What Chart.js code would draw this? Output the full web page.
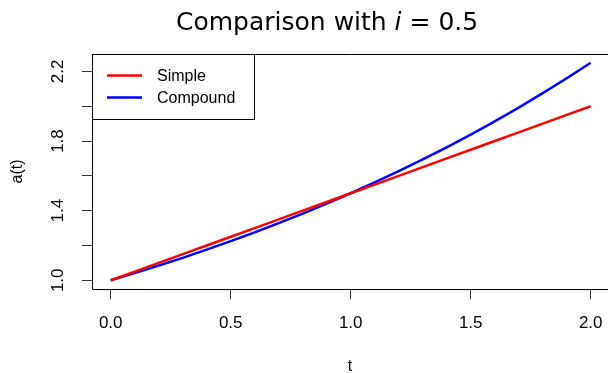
<!DOCTYPE html>
<html>
<head>
<meta charset="utf-8">
<script src="https://cdn.jsdelivr.net/npm/chart.js@4"></script>
<style>
  html, body { margin: 0; padding: 0; background: #fff; }
  #wrap { width: 608px; height: 373px; }
</style>
</head>
<body>
<div id="wrap"><canvas id="cmp"></canvas></div>
<script>
const tValues = [0, 0.1, 0.2, 0.3, 0.4, 0.5, 0.6, 0.7, 0.8, 0.9, 1.0, 1.1, 1.2, 1.3, 1.4, 1.5, 1.6, 1.7, 1.8, 1.9, 2.0];
const simpleValues = [1.00, 1.05, 1.10, 1.15, 1.20, 1.25, 1.30, 1.35, 1.40, 1.45, 1.50, 1.55, 1.60, 1.65, 1.70, 1.75, 1.80, 1.85, 1.90, 1.95, 2.00];
const compoundValues = [1.000, 1.041, 1.085, 1.129, 1.176, 1.225, 1.275, 1.328, 1.383, 1.440, 1.500, 1.562, 1.627, 1.694, 1.764, 1.837, 1.913, 1.992, 2.075, 2.161, 2.250];
const xTicks = [0, 0.5, 1.0, 1.5, 2.0];
const xTickLabels = ['0.0', '0.5', '1.0', '1.5', '2.0'];
const yTicks = [1.0, 1.2, 1.4, 1.6, 1.8, 2.0, 2.2];
const yTickLabels = ['1.0', '', '1.4', '', '1.8', '', '2.2'];
const seriesNames = ['Simple', 'Compound'];

const FONT = '"Liberation Sans", Arial, sans-serif';

const pts = (ys) => tValues.map((t, i) => ({ x: t, y: ys[i] }));

// box, legend and title drawn on top of the chart
const decor = {
  id: 'decor',
  afterDraw(chart) {
    const ctx = chart.ctx;
    const a = chart.chartArea;
    ctx.save();
    ctx.strokeStyle = '#000';
    ctx.lineWidth = 1;
    ctx.beginPath();
    ctx.moveTo(a.right + 2, a.top + 0.5);
    ctx.lineTo(a.left + 0.5, a.top + 0.5);
    ctx.lineTo(a.left + 0.5, a.bottom + 0.5);
    ctx.lineTo(a.right + 2, a.bottom + 0.5);
    ctx.stroke();

    // legend
    const lx = a.left, ly = a.top, lw = 162, lh = 65;
    ctx.fillStyle = '#fff';
    ctx.fillRect(lx, ly, lw, lh);
    ctx.strokeRect(lx + 0.5, ly + 0.5, lw, lh);
    const rows = [21.5, 43.5];
    ctx.font = '16px ' + FONT;
    ctx.textBaseline = 'middle';
    ctx.textAlign = 'left';
    chart.data.datasets.forEach((ds, i) => {
      ctx.strokeStyle = ds.borderColor;
      ctx.lineWidth = 2.5;
      ctx.beginPath();
      ctx.moveTo(lx + 15, ly + rows[i]);
      ctx.lineTo(lx + 50, ly + rows[i]);
      ctx.stroke();
      ctx.fillStyle = '#000';
      ctx.fillText(seriesNames[i], lx + 65, ly + rows[i] + 1);
    });

    // title with italic i
    const parts = [['Comparison with ', ''], ['i', 'italic '], [' = 0.5', '']];
    const size = 25;
    let x = 176;
    ctx.fillStyle = '#000';
    ctx.textBaseline = 'alphabetic';
    parts.forEach(([txt, st]) => {
      ctx.font = st + size + 'px "DejaVu Sans", sans-serif';
      ctx.fillText(txt, x, 29.5);
      x += ctx.measureText(txt).width;
    });
    ctx.restore();
  }
};

new Chart(document.getElementById('cmp'), {
  type: 'line',
  data: {
    datasets: [{
      label: seriesNames[0],
      data: pts(simpleValues),
      borderColor: '#ff0000',
      borderWidth: 2.5,
      pointRadius: 0,
      tension: 0
    }, {
      label: seriesNames[1],
      data: pts(compoundValues),
      borderColor: '#0000ff',
      borderWidth: 2.5,
      pointRadius: 0,
      tension: 0
    }]
  },
  options: {
    responsive: true,
    maintainAspectRatio: false,
    animation: false,
    events: [],
    layout: { padding: { top: 54, right: 0, left: 0, bottom: 0 } },
    plugins: {
      legend: { display: false },
      title: { display: false },
      tooltip: { enabled: false }
    },
    scales: {
      x: {
        type: 'linear',
        min: -0.078,
        max: 2.072,
        afterFit: s => { s.height = 84; s.paddingLeft = 0; s.paddingRight = 0; },
        afterBuildTicks: s => { s.ticks = xTicks.map(v => ({ value: v })); },
        grid: { drawOnChartArea: false, tickLength: 10, color: '#333', tickWidth: 1 },
        border: { display: false },
        ticks: {
          padding: 14,
          color: '#000',
          font: { family: FONT, size: 17 },
          maxRotation: 0,
          callback: (v) => xTickLabels[xTicks.indexOf(v)]
        },
        title: { display: true, text: 't', color: '#000', font: { family: FONT, size: 16 }, padding: { top: 0, bottom: -3 } }
      },
      y: {
        type: 'linear',
        min: 0.95,
        max: 2.3,
        afterFit: s => { s.width = 92; s.paddingTop = 0; s.paddingBottom = 0; },
        afterBuildTicks: s => { s.ticks = yTicks.map(v => ({ value: v })); },
        grid: { drawOnChartArea: false, tickLength: 10, color: '#333', tickWidth: 1 },
        border: { display: false },
        ticks: {
          padding: 12,
          color: '#000',
          crossAlign: 'center',
          minRotation: 90,
          maxRotation: 90,
          font: { family: FONT, size: 17 },
          callback: (v) => yTickLabels[yTicks.indexOf(v)]
        },
        title: { display: true, text: 'a(t)', color: '#000', font: { family: FONT, size: 16 }, padding: { top: 8, bottom: 0 } }
      }
    }
  },
  plugins: [decor]
});
</script>
</body>
</html>
